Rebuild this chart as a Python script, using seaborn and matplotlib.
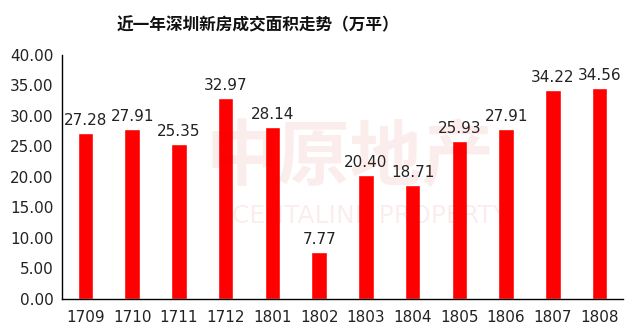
import matplotlib
matplotlib.use("Agg")
import matplotlib.pyplot as plt
import seaborn as sns
import pandas as pd

months = ["1709", "1710", "1711", "1712", "1801", "1802", "1803", "1804", "1805", "1806", "1807", "1808"]
values = [27.28, 27.91, 25.35, 32.97, 28.14, 7.77, 20.40, 18.71, 25.93, 27.91, 34.22, 34.56]
title = "近一年深圳新房成交面积走势（万平）"

sns.set_style("white")
plt.rcParams['font.family'] = ['DejaVu Sans', 'Noto Sans CJK SC']

df = pd.DataFrame({"month": months, "value": values})

fig = plt.figure(figsize=(6.37, 3.33), dpi=100)
ax = fig.add_axes([62/637, 1 - 299/333, (623-62)/637, (299-55)/333])

sns.barplot(data=df, x="month", y="value", color="#FF0000", saturation=1, width=0.33, ax=ax)

# watermark
fig.text(0.55, 0.52, "中原地产", fontsize=52, color="#e00000", alpha=0.07,
         ha="center", va="center", family=["Noto Sans CJK SC"], fontweight="bold", zorder=0)
fig.text(0.58, 0.35, "CENTALINE PROPERTY", fontsize=18, color="#e00000", alpha=0.07,
         ha="center", va="center", zorder=0)

for i, v in enumerate(values):
    ax.text(i, v + 0.8, f"{v:.2f}", ha="center", va="bottom", fontsize=11, color="#222222")

ax.set_ylim(0, 40)
ax.set_yticks(range(0, 41, 5))
ax.set_yticklabels([f"{t:.2f}" for t in range(0, 41, 5)], fontsize=11, color="#222222")
ax.set_xlim(-0.5, len(months) - 0.5)
ax.set_xticks(range(len(months)))
ax.set_xticklabels(months, fontsize=11, color="#222222")
ax.tick_params(axis="x", length=0, pad=8)
ax.tick_params(axis="y", length=0, pad=6)
# minor ticks between categories pointing inward
ax.set_xticks([i + 0.5 for i in range(len(months) - 1)], minor=True)
ax.tick_params(axis="x", which="minor", direction="in", length=5, width=0.8, color="black")
ax.set_xlabel("")
ax.set_ylabel("")

for s in ["top", "right"]:
    ax.spines[s].set_visible(False)
for s in ["left", "bottom"]:
    ax.spines[s].set_visible(True)
    ax.spines[s].set_color("black")
    ax.spines[s].set_linewidth(1)

fig.text(258/637, 1 - 25/333, title, fontsize=12, fontweight="bold", ha="center", va="center",
         family=["Noto Sans CJK SC"], color="#111111")

fig.savefig("out.png", dpi=100)
